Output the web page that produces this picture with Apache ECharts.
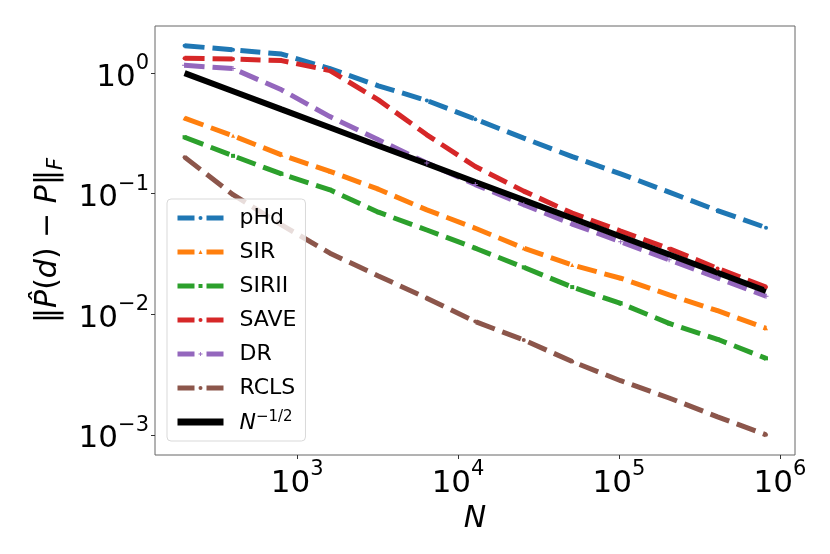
<html>
<meta charset="UTF-8">
<head>
    <script src="https://cdn.jsdelivr.net/npm/echarts@6/dist/echarts.min.js"></script>
</head>
<body style="margin:0;background:#fff">

<div id="errChart" style="width:830px;height:554px;"></div>

</body>
<script>
    // sample sizes N = 200 * 2^k
    var sampleSizes = [200, 400, 800, 1600, 3200, 6400, 12800, 25600, 51200, 102400, 204800, 409600, 819200];

    // Frobenius error per method
    var phd   = [1.69, 1.56, 1.44, 1.09, 0.785, 0.593, 0.415, 0.289, 0.203, 0.146, 0.103, 0.0724, 0.0523];
    var sir   = [0.423, 0.302, 0.210, 0.153, 0.109, 0.0734, 0.0517, 0.0353, 0.0256, 0.0199, 0.0145, 0.0107, 0.00765];
    var sirii = [0.294, 0.206, 0.146, 0.1076, 0.0702, 0.050, 0.0353, 0.0245, 0.0168, 0.0123, 0.0084, 0.0062, 0.00431];
    var save  = [1.33, 1.31, 1.27, 1.05, 0.60, 0.308, 0.168, 0.105, 0.069, 0.049, 0.035, 0.0240, 0.0168];
    var dr    = [1.16, 1.09, 0.727, 0.436, 0.28, 0.18, 0.119, 0.081, 0.056, 0.040, 0.0283, 0.020, 0.0141];
    var rcls  = [0.201, 0.098, 0.0551, 0.0321, 0.0208, 0.0136, 0.00869, 0.00612, 0.00405, 0.00281, 0.00202, 0.00141, 0.00100];
    var refRate = [1.0, 0.707, 0.5, 0.354, 0.25, 0.177, 0.125, 0.0884, 0.0625, 0.0442, 0.0313, 0.0221, 0.0156];

    var methodNames = ['pHd', 'SIR', 'SIRII', 'SAVE', 'DR', 'RCLS'];
    var methodColors = ['#1f77b4', '#ff7f0e', '#2ca02c', '#d62728', '#9467bd', '#8c564b'];
    var plusPath = 'path://M4,0L6,0L6,4L10,4L10,6L6,6L6,10L4,10L4,6L0,6L0,4L4,4Z';
    var methodSymbols = ['circle', 'triangle', 'rect', 'circle', plusPath, 'circle'];
    var methodData = [phd, sir, sirii, save, dr, rcls];

    function pairs(ys) {
        var out = [];
        for (var i = 0; i < sampleSizes.length; i++) {
            out.push([sampleSizes[i], ys[i]]);
        }
        return out;
    }

    function powLabel(v) {
        var e = Math.round(Math.log(v) / Math.LN10);
        var s = e < 0 ? '\u2212' + (-e) : '' + e;
        return '{b|10}{s|' + s + '}';
    }

    var powRich = {
        b: {fontSize: 31, color: '#000', lineHeight: 40, verticalAlign: 'bottom', fontFamily: 'DejaVu Sans'},
        s: {fontSize: 21, color: '#000', lineHeight: 40, verticalAlign: 'top', fontFamily: 'DejaVu Sans'}
    };

    var series = [];
    var legendData = [];
    for (var i = 0; i < methodNames.length; i++) {
        series.push({
            name: methodNames[i],
            type: 'line',
            data: pairs(methodData[i]),
            symbol: methodSymbols[i],
            symbolSize: methodSymbols[i] === plusPath ? 5 : 4,
            showSymbol: true,
            itemStyle: {color: methodColors[i]},
            lineStyle: {color: methodColors[i], width: 5, type: [20, 8], cap: 'butt'},
            animation: false
        });
        legendData.push({
            name: methodNames[i],
            lineStyle: {color: methodColors[i], width: 5, type: [17, 12]},
            itemStyle: {color: methodColors[i]}
        });
    }
    // reference rate: symbol kept as a black rect so the legend icon stays a plain line
    series.push({
        name: 'ref',
        type: 'line',
        data: pairs(refRate),
        symbol: 'rect',
        showSymbol: false,
        itemStyle: {color: '#000'},
        lineStyle: {color: '#000', width: 6},
        animation: false
    });
    legendData.push({
        name: 'ref',
        lineStyle: {color: '#000', width: 7, type: 'solid'},
        itemStyle: {color: '#000'}
    });

    var chart = echarts.init(document.getElementById('errChart'));
    chart.setOption({
        backgroundColor: '#fff',
        animation: false,
        grid: {
            left: 155, top: 26, right: 35, bottom: 99,
            show: true, borderColor: '#666', borderWidth: 1, backgroundColor: 'transparent'
        },
        legend: {
            orient: 'vertical',
            left: 167,
            top: 199,
            padding: [7, 9, 7, 7],
            itemGap: 10,
            itemWidth: 46,
            itemHeight: 5,
            backgroundColor: 'rgba(255,255,255,0.8)',
            borderColor: '#d9d9d9',
            borderWidth: 1,
            borderRadius: 4,
            data: legendData,
            formatter: function (name) {
                if (name === 'ref') return '{i|N}{s|\u22121/2}';
                return '{t|' + name + '}';
            },
            textStyle: {
                fontSize: 22,
                lineHeight: 24,
                padding: [0, 0, 0, 11],
                color: '#000',
                fontFamily: 'DejaVu Sans',
                rich: {
                    t: {fontSize: 22, lineHeight: 24, fontFamily: 'DejaVu Sans'},
                    i: {fontSize: 22, lineHeight: 24, fontStyle: 'italic', fontFamily: 'DejaVu Sans', verticalAlign: 'bottom'},
                    s: {fontSize: 15, lineHeight: 24, fontFamily: 'DejaVu Sans', verticalAlign: 'top'}
                }
            }
        },
        xAxis: {
            type: 'log',
            logBase: 10,
            min: 131,
            max: 1.24e6,
            name: 'N',
            nameLocation: 'middle',
            nameGap: 47,
            nameTextStyle: {fontSize: 30, fontStyle: 'italic', color: '#000', fontFamily: 'DejaVu Sans'},
            axisLine: {show: false},
            axisTick: {show: true, length: 4, lineStyle: {color: '#333'}},
            splitLine: {show: false},
            axisLabel: {
                showMinLabel: false,
                showMaxLabel: false,
                margin: 4,
                formatter: powLabel,
                rich: powRich
            }
        },
        yAxis: {
            type: 'log',
            logBase: 10,
            min: 6.8e-4,
            max: 2.46,
            name: '\u2016{i|P\u0302}({i|d}) \u2212 {i|P}\u2016{f|F}',
            nameLocation: 'middle',
            nameGap: 88,
            nameRotate: 90,
            nameTextStyle: {
                fontSize: 30, color: '#000', fontFamily: 'DejaVu Sans',
                rich: {
                    i: {fontSize: 30, fontStyle: 'italic', fontFamily: 'DejaVu Sans', color: '#000'},
                    f: {fontSize: 21, fontStyle: 'italic', fontFamily: 'DejaVu Sans', color: '#000', padding: [16, 0, 0, 0]}
                }
            },
            axisLine: {show: false},
            axisTick: {show: true, length: 4, lineStyle: {color: '#333'}},
            splitLine: {show: false},
            axisLabel: {
                showMinLabel: false,
                showMaxLabel: false,
                margin: 6,
                formatter: powLabel,
                rich: powRich
            }
        },
        series: series
    });
</script>
</html>
